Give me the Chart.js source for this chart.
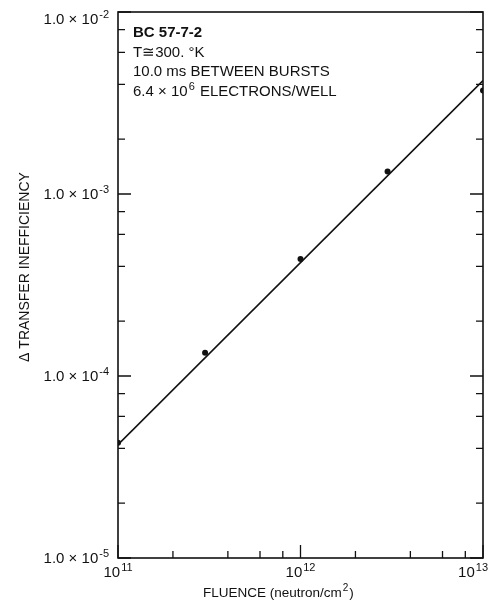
<!DOCTYPE html>
<html><head><meta charset="utf-8">
<script src="https://cdn.jsdelivr.net/npm/chart.js@4/dist/chart.umd.min.js"></script>
<style>html,body{margin:0;padding:0;background:#fff}#wrap{width:495px;height:612px}</style>
</head><body><div id="wrap"><canvas id="c" width="495" height="612"></canvas></div>
<script>
// ---- data ----
const fluence = [1e11, 3e11, 1e12, 3e12, 1e13];
const inefficiency = [4.3e-5, 1.34e-4, 4.4e-4, 1.33e-3, 3.7e-3];
const fitFluence = [1e11, 1e13];
const fitInefficiency = [4.2e-5, 4.2e-3];
const xTickValues = [1e11, 1e12, 1e13];
const xTickBase = ['10', '10', '10'];
const xTickExp = ['11', '12', '13'];
const yTickValues = [1e-5, 1e-4, 1e-3, 1e-2];
const yTickBase = ['1.0 × 10', '1.0 × 10', '1.0 × 10', '1.0 × 10'];
const yTickExp = ['-5', '-4', '-3', '-2'];
const minorMultipliers = [2, 4, 6, 8];
const annotationLines = ['BC 57-7-2', 'T≅300. °K', '10.0 ms BETWEEN BURSTS', '6.4 × 10|6| ELECTRONS/WELL'];
const xTitleBase = 'FLUENCE (neutron/cm';
const xTitleExp = '2';
const xTitleEnd = ')';
const yTitle = 'Δ TRANSFER INEFFICIENCY';

const FONT = '"Liberation Sans", Arial, Helvetica, sans-serif';
const INK = '#111';

function drawSup(ctx, x, y, base, exp, size, align) {
  ctx.font = size + 'px ' + FONT;
  const wb = ctx.measureText(base).width;
  ctx.font = Math.round(size * 0.72) + 'px ' + FONT;
  const we = ctx.measureText(exp).width;
  let x0 = x;
  if (align === 'right') x0 = x - wb - we - 1;
  else if (align === 'center') x0 = x - (wb + we + 1) / 2;
  ctx.textAlign = 'left';
  ctx.textBaseline = 'alphabetic';
  ctx.font = size + 'px ' + FONT;
  ctx.fillText(base, x0, y);
  ctx.font = Math.round(size * 0.72) + 'px ' + FONT;
  ctx.fillText(exp, x0 + wb + 1, y - size * 0.42);
  return x0 + wb + we + 1;
}

const decor = {
  id: 'decor',
  afterDatasetsDraw(chart) {
    const ctx = chart.ctx;
    const a = chart.chartArea;
    const xs = chart.scales.x, ys = chart.scales.y;
    ctx.save();
    ctx.strokeStyle = INK;
    ctx.fillStyle = INK;
    // frame
    ctx.lineWidth = 1.6;
    ctx.strokeRect(a.left, a.top, a.right - a.left, a.bottom - a.top);
    ctx.lineWidth = 1.3;
    const major = 13, minor = 7;
    ctx.beginPath();
    // x ticks (bottom only), inward
    for (let d = 11; d <= 13; d++) {
      const base = Math.pow(10, d);
      const px = xs.getPixelForValue(base);
      ctx.moveTo(px, a.bottom); ctx.lineTo(px, a.bottom - major);
      if (d < 13) {
        minorMultipliers.forEach(m => {
          const p = xs.getPixelForValue(base * m);
          ctx.moveTo(p, a.bottom); ctx.lineTo(p, a.bottom - minor);
        });
      }
    }
    // y ticks (left & right), inward
    for (let d = -5; d <= -2; d++) {
      const base = Math.pow(10, d);
      const py = ys.getPixelForValue(base);
      ctx.moveTo(a.left, py); ctx.lineTo(a.left + major, py);
      ctx.moveTo(a.right, py); ctx.lineTo(a.right - major, py);
      if (d < -2) {
        minorMultipliers.forEach(m => {
          const p = ys.getPixelForValue(base * m);
          ctx.moveTo(a.left, p); ctx.lineTo(a.left + minor, p);
          ctx.moveTo(a.right, p); ctx.lineTo(a.right - minor, p);
        });
      }
    }
    ctx.stroke();

    // y tick labels
    yTickValues.forEach((v, i) => {
      const py = Math.max(ys.getPixelForValue(v), a.top + 7);
      drawSup(ctx, a.left - 9, py + 5, yTickBase[i], yTickExp[i], 15, 'right');
    });
    // x tick labels
    xTickValues.forEach((v, i) => {
      const px = xs.getPixelForValue(v);
      const al = i === xTickValues.length - 1 ? 'right' : 'center';
      drawSup(ctx, al === 'right' ? px + 5 : px, a.bottom + 19, xTickBase[i], xTickExp[i], 15, al);
    });
    // x title
    const xEnd = drawSup(ctx, 203, 597, xTitleBase, xTitleExp, 13.5, 'left');
    ctx.font = '13.5px ' + FONT;
    ctx.fillText(xTitleEnd, xEnd + 1, 597);
    // y title
    ctx.save();
    ctx.translate(29, 267);
    ctx.rotate(-Math.PI / 2);
    ctx.textAlign = 'center';
    ctx.textBaseline = 'alphabetic';
    ctx.font = '14px ' + FONT;
    ctx.fillText(yTitle, 0, 0);
    ctx.restore();
    // annotation block
    const ax = a.left + 15;
    let ay = 37;
    annotationLines.forEach((line, i) => {
      ctx.textAlign = 'left';
      ctx.font = (i === 0 ? 'bold ' : '') + '15px ' + FONT;
      if (line.indexOf('|') >= 0) {
        const parts = line.split('|');
        const e = drawSup(ctx, ax, ay, parts[0], parts[1], 15, 'left');
        ctx.font = '15px ' + FONT;
        ctx.fillText(parts[2], e + 1, ay);
      } else {
        ctx.fillText(line, ax, ay);
      }
      ay += 19.7;
    });
    ctx.restore();
  }
};

new Chart(document.getElementById('c'), {
  type: 'scatter',
  data: {
    datasets: [
      {
        label: 'fit',
        data: fitFluence.map((x, i) => ({ x: x, y: fitInefficiency[i] })),
        showLine: true,
        borderColor: INK,
        borderWidth: 1.6,
        pointRadius: 0,
        fill: false
      },
      {
        label: 'measured',
        data: fluence.map((x, i) => ({ x: x, y: inefficiency[i] })),
        showLine: false,
        pointRadius: 3,
        pointBackgroundColor: INK,
        pointBorderColor: INK,
        pointBorderWidth: 0
      }
    ]
  },
  options: {
    responsive: false,
    devicePixelRatio: 1,
    animation: false,
    layout: { padding: { top: 12, right: 12, left: 0, bottom: 0 } },
    plugins: { legend: { display: false }, tooltip: { enabled: false } },
    scales: {
      x: {
        type: 'logarithmic', min: 1e11, max: 1e13,
        grid: { display: false, drawTicks: false },
        border: { display: false },
        ticks: { display: false },
        afterFit: s => { s.height = 54; s.paddingLeft = 0; s.paddingRight = 0; }
      },
      y: {
        type: 'logarithmic', min: 1e-5, max: 1e-2,
        grid: { display: false, drawTicks: false },
        border: { display: false },
        ticks: { display: false },
        afterFit: s => { s.width = 118; s.paddingTop = 0; s.paddingBottom = 0; }
      }
    }
  },
  plugins: [decor]
});
</script>
</body></html>
